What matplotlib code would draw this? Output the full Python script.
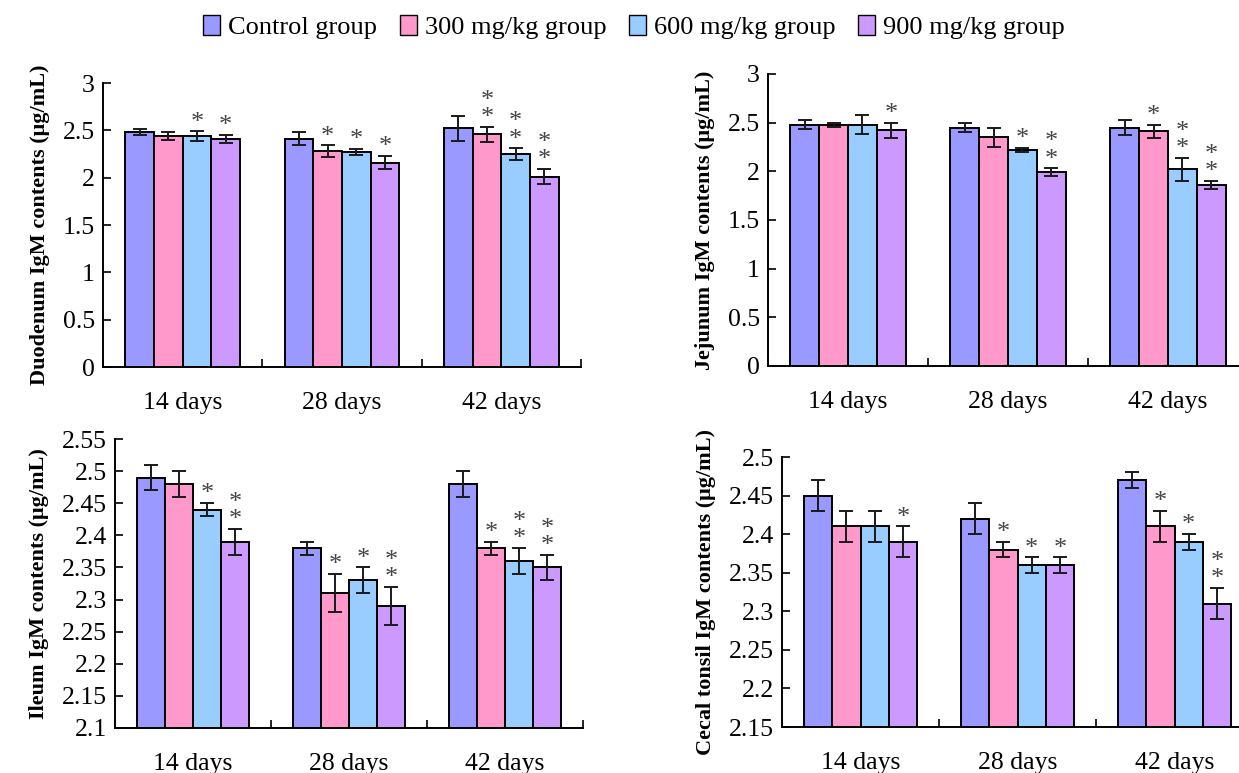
import numpy as np
import matplotlib
matplotlib.use("Agg")
import matplotlib.pyplot as plt
from matplotlib.patches import Patch
from matplotlib.ticker import FuncFormatter

plt.rcParams['font.family'] = ['Liberation Serif', 'DejaVu Serif']

days = ['14 days', '28 days', '42 days']
groups = ['Control group', '300 mg/kg group', '600 mg/kg group', '900 mg/kg group']
colors = ['#9999FF', '#FF99CC', '#99CCFF', '#CC99FF']

# rows = days, cols = groups
duo_mean = [[2.48, 2.44, 2.44, 2.41], [2.41, 2.28, 2.27, 2.16], [2.52, 2.46, 2.25, 2.01]]
duo_err = [[0.03, 0.04, 0.05, 0.04], [0.07, 0.06, 0.03, 0.07], [0.13, 0.08, 0.06, 0.08]]
duo_star = [[0, 0, 1, 1], [0, 1, 1, 1], [0, 2, 2, 2]]

jej_mean = [[2.48, 2.48, 2.48, 2.42], [2.45, 2.35, 2.22, 1.99], [2.45, 2.41, 2.02, 1.86]]
jej_err = [[0.05, 0.02, 0.10, 0.08], [0.05, 0.10, 0.02, 0.04], [0.08, 0.07, 0.12, 0.04]]
jej_star = [[0, 0, 0, 1], [0, 0, 1, 2], [0, 1, 2, 2]]

ile_mean = [[2.49, 2.48, 2.44, 2.39], [2.38, 2.31, 2.33, 2.29], [2.48, 2.38, 2.36, 2.35]]
ile_err = [[0.02, 0.02, 0.01, 0.02], [0.01, 0.03, 0.02, 0.03], [0.02, 0.01, 0.02, 0.02]]
ile_star = [[0, 0, 1, 2], [0, 1, 1, 2], [0, 1, 2, 2]]

cec_mean = [[2.45, 2.41, 2.41, 2.39], [2.42, 2.38, 2.36, 2.36], [2.47, 2.41, 2.39, 2.31]]
cec_err = [[0.02, 0.02, 0.02, 0.02], [0.02, 0.01, 0.01, 0.01], [0.01, 0.02, 0.01, 0.02]]
cec_star = [[0, 0, 0, 1], [0, 1, 1, 1], [0, 1, 1, 2]]

W, H = 1239, 773
fig = plt.figure(figsize=(W / 100, H / 100), dpi=100)


def px_axes(left, right, top, bottom):
    return fig.add_axes([left / W, 1 - bottom / H, (right - left) / W, (bottom - top) / H])


def draw_panel(ax, mean, err, stars, ylim, yticks, ylabel):
    bw = 0.18
    start = 0.14
    for j in range(4):
        xs = [i + start + bw * (j + 0.5) for i in range(3)]
        m = [mean[i][j] for i in range(3)]
        e = [err[i][j] for i in range(3)]
        ax.bar(xs, [v - ylim[0] for v in m], bw, bottom=ylim[0], color=colors[j],
               edgecolor='black', linewidth=1.4, zorder=2)
        ax.errorbar(xs, m, yerr=e, fmt='none', ecolor='#1a1a1a', elinewidth=1.4,
                    capsize=5, capthick=1.4, zorder=3)
        for i in range(3):
            if stars[i][j]:
                ax.annotate('\n'.join(['*'] * stars[i][j]), (xs[i], m[i] + e[i]),
                            xytext=(0, 2), textcoords='offset points', ha='center',
                            va='baseline', fontsize=19, linespacing=0.72,
                            color='#444444', zorder=4)
    ax.set_xlim(0, 3)
    ax.set_ylim(*ylim)
    ax.set_yticks(yticks)
    ax.yaxis.set_major_formatter(FuncFormatter(lambda v, p: '%g' % round(v, 3)))
    ax.set_xticks([0, 1, 2, 3])
    ax.set_xticklabels([])
    ax.set_xticks([0.5, 1.5, 2.5], minor=True)
    ax.set_xticklabels(days, minor=True)
    ax.tick_params(axis='x', which='minor', length=0, pad=18, labelsize=18.5)
    ax.tick_params(axis='x', which='major', direction='in', length=6, width=1.2)
    ax.tick_params(axis='y', direction='in', length=6, width=1.2, labelsize=18.5, pad=6)
    for s in ['top', 'right']:
        ax.spines[s].set_visible(False)
    for s in ['left', 'bottom']:
        ax.spines[s].set_linewidth(1.4)
    ax.set_ylabel(ylabel, fontsize=16, fontweight='bold', labelpad=9)


ax1 = px_axes(103, 581, 83, 367)
draw_panel(ax1, duo_mean, duo_err, duo_star, (0, 3), np.arange(0, 3.01, 0.5),
           'Duodenum IgM contents (\u03bcg/mL)')

ax2 = px_axes(768, 1248, 74, 366)
draw_panel(ax2, jej_mean, jej_err, jej_star, (0, 3), np.arange(0, 3.01, 0.5),
           'Jejunum IgM contents (\u03bcg/mL)')

ax3 = px_axes(115, 583, 439, 728)
draw_panel(ax3, ile_mean, ile_err, ile_star, (2.1, 2.55), np.arange(2.1, 2.551, 0.05),
           'Ileum IgM contents (\u03bcg/mL)')

ax4 = px_axes(782, 1253, 457, 727)
draw_panel(ax4, cec_mean, cec_err, cec_star, (2.15, 2.5), np.arange(2.15, 2.501, 0.05),
           'Cecal tonsil IgM contents (\u03bcg/mL)')

handles = [Patch(facecolor=c, edgecolor='black', linewidth=1.0) for c in colors]
fig.legend(handles, groups, loc='center', bbox_to_anchor=(634 / W, 1 - 27 / H), ncol=4,
           frameon=False, fontsize=19, handlelength=0.65, handleheight=0.8,
           handletextpad=0.3, columnspacing=0.85)

fig.savefig('out.png', dpi=100)
